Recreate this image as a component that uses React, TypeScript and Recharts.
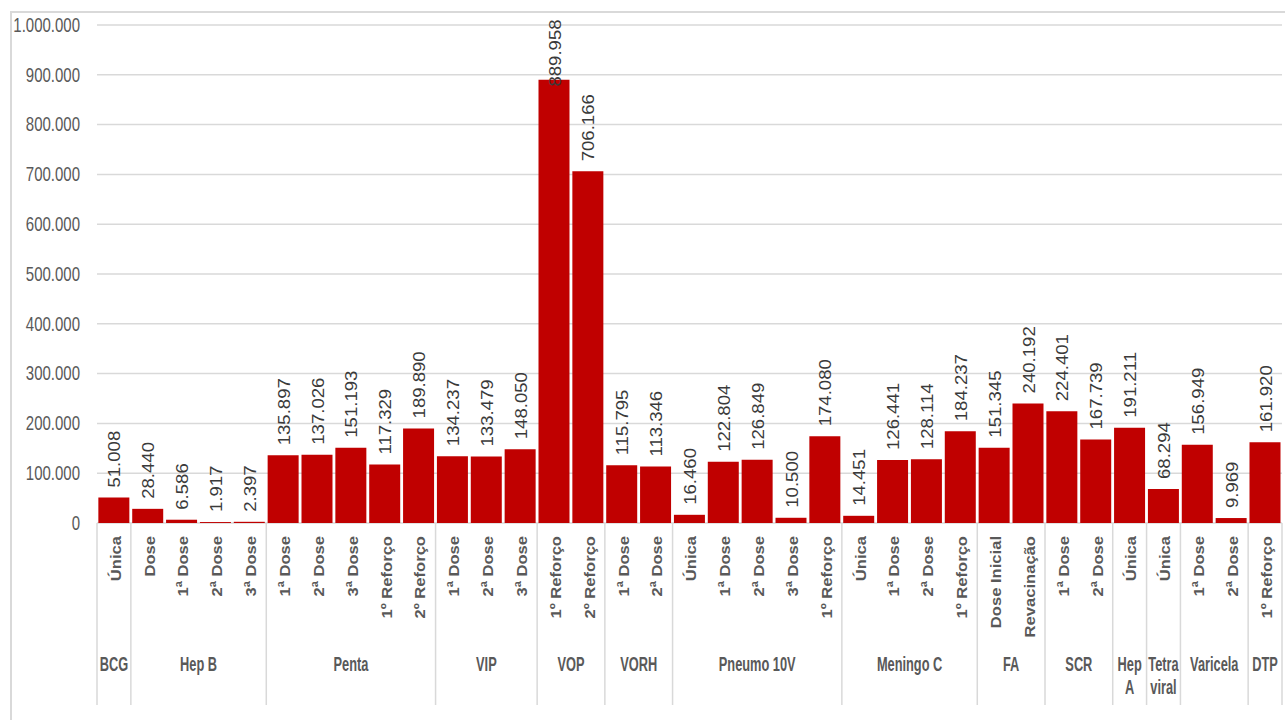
import { BarChart, Bar, XAxis, YAxis, CartesianGrid, LabelList } from 'recharts';

// Doses aplicadas por vacina e dose
const groupNames = ['BCG', 'Hep B', 'Penta', 'VIP', 'VOP', 'VORH', 'Pneumo 10V', 'Meningo C', 'FA', 'SCR', 'Hep\nA', 'Tetra\nviral', 'Varicela', 'DTP'];
const groupSizes = [1, 4, 5, 3, 2, 2, 5, 4, 2, 2, 1, 1, 2, 1];

const doseLabels = [
  'Única',
  'Dose', '1ª Dose', '2ª Dose', '3ª Dose',
  '1ª Dose', '2ª Dose', '3ª Dose', '1º Reforço', '2º Reforço',
  '1ª Dose', '2ª Dose', '3ª Dose',
  '1º Reforço', '2º Reforço',
  '1ª Dose', '2ª Dose',
  'Única', '1ª Dose', '2ª Dose', '3ª Dose', '1º Reforço',
  'Única', '1ª Dose', '2ª Dose', '1º Reforço',
  'Dose Inicial', 'Revacinação',
  '1ª Dose', '2ª Dose',
  'Única',
  'Única',
  '1ª Dose', '2ª Dose',
  '1º Reforço',
];

const doseValues = [
  51008,
  28440, 6586, 1917, 2397,
  135897, 137026, 151193, 117329, 189890,
  134237, 133479, 148050,
  889958, 706166,
  115795, 113346,
  16460, 122804, 126849, 10500, 174080,
  14451, 126441, 128114, 184237,
  151345, 240192,
  224401, 167739,
  191211,
  68294,
  156949, 9969,
  161920,
];

const yTicks = [0, 100000, 200000, 300000, 400000, 500000, 600000, 700000, 800000, 900000, 1000000];

const data = doseLabels.map((dose, i) => ({ dose, value: doseValues[i], pos: i + 0.5 }));

// group boundaries and centres in category units
const groupStarts: number[] = [];
groupSizes.reduce((acc, n) => {
  groupStarts.push(acc);
  return acc + n;
}, 0);
const total = doseLabels.length;
const boundaries = [...groupStarts, total];
const groupMids = groupStarts.map((s, i) => s + groupSizes[i] / 2);

const FONT = '"Liberation Sans", Arial, sans-serif';
const GRID = '#d9d9d9';
const MARGIN = { top: 25, right: 3, bottom: 14, left: 0 };
const DOSE_H = 120;
const GROUP_H = 62;

const fmt = (v: number) => String(Math.round(v)).replace(/\B(?=(\d{3})+(?!\d))/g, '.');

const YTick = ({ x, y, payload }: any) => (
  <text
    transform={`translate(${x - 9},${y}) scale(0.75,1)`}
    textAnchor="end"
    dominantBaseline="central"
    fontSize={20}
    fontFamily={FONT}
    fill="#595959"
  >
    {fmt(payload.value)}
  </text>
);

// divider between vaccine groups; this axis sits under the two label rows,
// so the line runs back up through both of them
const SepTick = ({ x, y }: any) => (
  <line x1={x} x2={x} y1={y - DOSE_H - GROUP_H} y2={y} stroke={GRID} strokeWidth={1.5} />
);

const DoseTick = ({ x, y, payload }: any) => (
  <text
    transform={`translate(${x + 1},${y + 13}) rotate(-90) scale(1.07,1)`}
    textAnchor="end"
    dominantBaseline="central"
    fontSize={15.5}
    fontWeight="bold"
    fontFamily={FONT}
    fill="#595959"
  >
    {payload.value}
  </text>
);

const GroupTick = ({ x, y, payload }: any) => {
  const idx = groupMids.indexOf(payload.value);
  const lines = (groupNames[idx] ?? '').split('\n');
  return (
    <g transform={`translate(${x},${y + 21}) scale(0.61,1)`}>
      {lines.map((line, i) => (
        <text
          key={i}
          y={i * 23}
          textAnchor="middle"
          dominantBaseline="central"
          fontSize={21}
          fontWeight="bold"
          fontFamily={FONT}
          fill="#595959"
        >
          {line}
        </text>
      ))}
    </g>
  );
};

const ValueLabel = ({ x, y, width, value }: any) => {
  const s = fmt(value);
  const len = s.replace('.', '').length * 10.4 + 5.2;
  const base = Math.max(y - 10, MARGIN.top - 6 + len);
  return (
    <text
      transform={`translate(${x + width / 2 + 1},${base}) rotate(-90) scale(1.14,1)`}
      textAnchor="start"
      dominantBaseline="central"
      fontSize={16.3}
      fontFamily={FONT}
      fill="#3a3a3a"
    >
      {s}
    </text>
  );
};

export default function App() {
  return (
    <div style={{ position: 'relative', width: 1285, height: 720, overflow: 'hidden', background: '#fff' }}>
      <style>{'body{margin:0}'}</style>
      <div
        style={{
          position: 'absolute',
          left: 10,
          top: 11,
          width: 1290,
          height: 720,
          border: `2px solid ${GRID}`,
        }}
      />
      <div style={{ position: 'absolute', left: 0, top: 0 }}>
        <BarChart width={1285} height={720} data={data} margin={MARGIN} barCategoryGap="4%">
          <CartesianGrid vertical={false} stroke={GRID} strokeWidth={1.5} xAxisId="dose" />
          <XAxis
            xAxisId="dose"
            dataKey="dose"
            interval={0}
            height={DOSE_H}
            axisLine={false}
            tickLine={false}
            tickSize={0}
            tickMargin={0}
            tick={<DoseTick />}
          />
          <XAxis
            xAxisId="grp"
            dataKey="pos"
            type="number"
            domain={[0, total]}
            ticks={groupMids}
            allowDataOverflow
            interval={0}
            height={GROUP_H}
            axisLine={false}
            tickLine={false}
            tickSize={0}
            tickMargin={0}
            tick={<GroupTick />}
          />
          <XAxis
            xAxisId="sep"
            dataKey="pos"
            type="number"
            domain={[0, total]}
            ticks={boundaries}
            allowDataOverflow
            interval={0}
            height={1}
            axisLine={false}
            tickLine={false}
            tickSize={0}
            tickMargin={0}
            tick={<SepTick />}
          />
          <YAxis
            domain={[0, 1000000]}
            ticks={yTicks}
            width={97}
            axisLine={false}
            tickLine={false}
            interval={0}
            tick={<YTick />}
          />
          <Bar dataKey="value" xAxisId="dose" fill="#C00000" isAnimationActive={false}>
            <LabelList dataKey="value" content={<ValueLabel />} />
          </Bar>
        </BarChart>
      </div>
    </div>
  );
}
